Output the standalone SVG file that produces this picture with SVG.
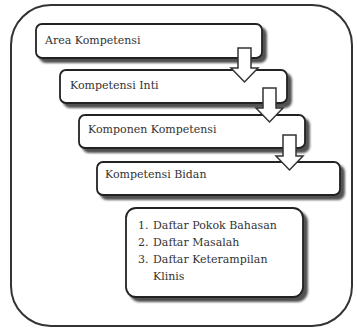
<svg xmlns="http://www.w3.org/2000/svg" width="357" height="329" viewBox="0 0 357 329">
<defs>
<filter id="sh" x="-10%" y="-20%" width="130%" height="160%">
<feDropShadow dx="4" dy="4" stdDeviation="1" flood-color="#333" flood-opacity="0.85"/>
</filter>
</defs>
<style>
.box{fill:#fff;stroke:#222;stroke-width:1.8;filter:url(#sh)}
.outer{fill:#fff;stroke:#333;stroke-width:2}
.t{font-family:"DejaVu Serif","Liberation Serif",serif;font-size:11px;fill:#333}
.arr{fill:#fff;stroke:#333;stroke-width:1.5;stroke-linejoin:miter}
</style>
<rect class="outer" x="11" y="5" width="341" height="321" rx="40" ry="40"/>
<g id="n1"><rect class="box" x="36" y="24" width="226" height="34" rx="6"/><text class="t" x="45" y="44">Area Kompetensi</text></g>
<g id="n2"><rect class="box" x="60" y="70" width="227" height="33" rx="6"/><text class="t" x="70" y="89">Kompetensi Inti</text></g>
<g id="n3"><rect class="box" x="79" y="115" width="226" height="33" rx="6"/><text class="t" x="88" y="133">Komponen Kompetensi</text></g>
<g id="n4"><rect class="box" x="97" y="162" width="243" height="33" rx="6"/><text class="t" x="105" y="178">Kompetensi Bidan</text></g>
<g id="n5"><rect class="box" x="126" y="208" width="177" height="89" rx="10"/>
<text class="t"><tspan x="138" y="229">1.</tspan><tspan x="153" y="229">Daftar Pokok Bahasan</tspan><tspan x="138" y="246">2.</tspan><tspan x="153" y="246">Daftar Masalah</tspan><tspan x="138" y="263">3.</tspan><tspan x="153" y="263">Daftar Keterampilan</tspan><tspan x="153" y="280">Klinis</tspan></text></g>
<g id="connectors">
<path class="arr" d="M238,48 H251 V68 H258 L244.5,82 L231,68 H238 Z"/>
<path class="arr" d="M263,88 H276 V108 H283 L269.5,122 L256,108 H263 Z"/>
<path class="arr" d="M283,135 H296 V156 H303 L289.5,170 L276,156 H283 Z"/>
</g>
</svg>
